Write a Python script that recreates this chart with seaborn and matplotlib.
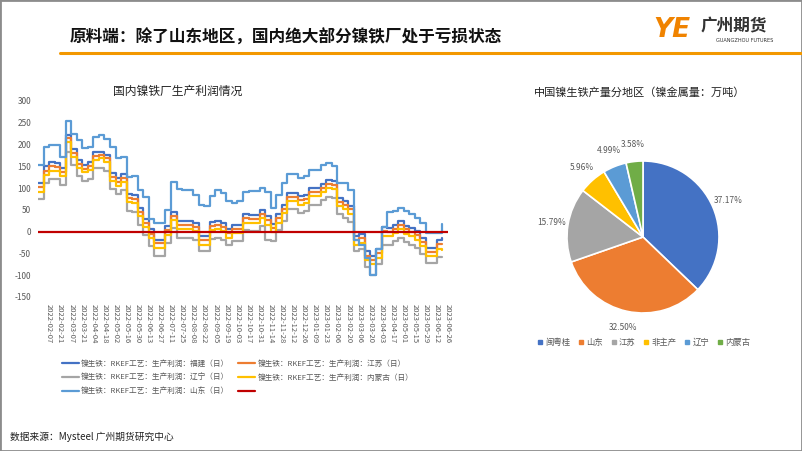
import pandas as pd
import seaborn as sns
import matplotlib.pyplot as plt
from matplotlib.lines import Line2D
from matplotlib.patches import Rectangle

# weekly readings of the profit chart, first week 2022-01-24
weeks = pd.date_range('2022-01-24', periods=74, freq='7D')

fujian = [112, 150, 159, 158, 146, 223, 190, 165, 154, 160, 182, 184, 177, 135, 123,
          133, 87, 85, 55, 30, 5, -18, -18, 12, 45, 24, 24, 24, 20, -11, -11, 22, 24,
          20, 5, 16, 16, 40, 39, 39, 50, 35, 18, 40, 62, 89, 89, 81, 85, 100, 100, 110,
          119, 116, 77, 70, 60, -10, -5, -45, -55, -40, 10, 8, 15, 24, 14, 8, 1, -15,
          -37, -37, -20, -15]
jiangsu = [102, 140, 150, 149, 137, 215, 181, 156, 145, 151, 174, 176, 169, 126, 114,
           124, 78, 76, 46, 21, -5, -27, -27, 3, 36, 15, 15, 15, 11, -20, -20, 13, 15,
           11, -4, 7, 7, 31, 30, 30, 41, 26, 9, 31, 53, 80, 80, 72, 76, 91, 91, 101,
           110, 107, 68, 61, 51, -20, -15, -55, -65, -50, 1, -1, 6, 15, 5, -1, -8, -24,
           -46, -46, -29, -28]
liaoning = [75, 112, 121, 120, 108, 184, 152, 128, 117, 122, 146, 147, 140, 97, 86,
            95, 48, 46, 16, -8, -33, -55, -55, -25, 8, -14, -14, -14, -18, -45, -45, -16,
            -14, -18, -30, -22, -22, 3, 2, 2, 12, -18, -22, 3, 25, 52, 52, 44, 48, 62, 62,
            72, 80, 78, 40, 32, 22, -45, -40, -80, -100, -75, -30, -30, -22, -14, -24, -30,
            -37, -52, -72, -72, -58, -58]
neimenggu = [92, 130, 140, 139, 127, 207, 172, 147, 136, 142, 165, 168, 160, 117, 105,
             115, 68, 66, 36, 11, -15, -37, -37, -7, 26, 5, 5, 5, 1, -30, -30, 3, 5, 1,
             -14, -3, -3, 21, 20, 20, 31, 16, -1, 21, 43, 70, 70, 62, 66, 81, 81, 91, 100,
             97, 58, 51, 41, -30, -25, -65, -75, -60, -9, -11, -4, 5, -5, -11, -18, -34,
             -56, -56, -39, -42]
shandong = [154, 195, 200, 198, 172, 253, 225, 211, 193, 195, 218, 222, 213, 195, 170,
            172, 125, 128, 95, 80, 30, 20, 20, 50, 115, 97, 95, 95, 85, 62, 60, 82, 95,
            88, 70, 66, 70, 90, 94, 93, 100, 90, 55, 85, 112, 133, 133, 123, 128, 142,
            142, 152, 158, 150, 112, 112, 95, -20, -30, -60, -100, -40, 10, 45, 48, 55, 48,
            40, 32, 20, -2, -2, -2, 18]

line_names = ['镍生铁：RKEF工艺：生产利润：福建（日）',
              '镍生铁：RKEF工艺：生产利润：江苏（日）',
              '镍生铁：RKEF工艺：生产利润：辽宁（日）',
              '镍生铁：RKEF工艺：生产利润：内蒙古（日）',
              '镍生铁：RKEF工艺：生产利润：山东（日）']
line_colors = ['#4472C4', '#ED7D31', '#A5A5A5', '#FFC000', '#5B9BD5']

tick_dates = pd.date_range('2022-02-07', '2023-06-26', freq='14D')
y_ticks = [-150, -100, -50, 0, 50, 100, 150, 200, 250, 300]

pie_regions = ['闽粤桂', '山东', '江苏', '非主产', '辽宁', '内蒙古']
pie_shares = [37.17, 32.50, 15.79, 5.96, 4.99, 3.58]
pie_colors = ['#4472C4', '#ED7D31', '#A5A5A5', '#FFC000', '#5B9BD5', '#70AD47']

sns.set_theme(style='white')
plt.rcParams['font.family'] = ['Noto Sans CJK SC', 'DejaVu Sans']

W, H = 802, 451
fig = plt.figure(figsize=(W / 100, H / 100), dpi=100)


def fx(px):
    return px / W


def fy(py):
    return 1 - py / H


# header
fig.text(fx(70), fy(38), '原料端：除了山东地区，国内绝大部分镍铁厂处于亏损状态',
         fontsize=12, fontweight='bold', color='#111111', va='center', ha='left')
fig.add_artist(Line2D([fx(60), fx(802)], [fy(53), fy(53)], color='#F39800', lw=2.2))
fig.text(fx(672), fy(30), 'YE', fontsize=19, fontweight='bold', style='italic',
         color='#F08300', ha='center', va='center', family=['DejaVu Sans'])
fig.text(fx(734), fy(26), '广州期货', fontsize=12, fontweight='bold', color='#333333',
         ha='center', va='center')
fig.text(fx(745), fy(41), 'GUANGZHOU FUTURES', fontsize=3.6, color='#333333',
         ha='center', va='center', family=['DejaVu Sans'])

# profit lines
df = pd.DataFrame({'date': list(weeks) * 5,
                   'value': fujian + jiangsu + liaoning + neimenggu + shandong,
                   'series': sum([[n] * len(weeks) for n in line_names], [])})

ax = fig.add_axes([fx(38), fy(297), fx(448 - 38), (297 - 101) / H])
sns.lineplot(data=df, x='date', y='value', hue='series', hue_order=line_names,
             palette=dict(zip(line_names, line_colors)), linewidth=1.6,
             drawstyle='steps-post', legend=False, ax=ax)
ax.axhline(0, color='#C00000', lw=1.6, zorder=5)
ax.set_xlim(weeks[0], weeks[-1])
ax.set_ylim(-150, 300)
ax.set_yticks(y_ticks)
ax.set_yticklabels([str(v) for v in y_ticks], fontsize=6, color='#595959')
ax.set_xticks(tick_dates)
ax.set_xticklabels([d.strftime('%Y-%m-%d') for d in tick_dates], rotation=270,
                   fontsize=5.5, color='#595959', ha='center', va='top')
ax.tick_params(length=0, pad=5)
ax.set_xlabel('')
ax.set_ylabel('')
for s in ax.spines.values():
    s.set_visible(False)
fig.text(fx(178), fy(91), '国内镍铁厂生产利润情况', fontsize=8.5, color='#222222',
         ha='center', va='center')

handles = [Line2D([], [], color=c, lw=1.6) for c in line_colors]
red = Line2D([], [], color='#C00000', lw=1.6)
# column-major order so the rows read like the original
leg_h = [handles[0], handles[2], handles[4], handles[1], handles[3], red]
leg_l = [line_names[0], line_names[2], line_names[4], line_names[1], line_names[3], '']
fig.legend(leg_h, leg_l, loc='upper left', bbox_to_anchor=(fx(55), fy(353)), ncol=2,
           frameon=False, fontsize=5.5, handlelength=2.2, handletextpad=0.3,
           labelspacing=0.75, columnspacing=1.2, labelcolor='#595959')

# pie
cx, cy, r = 643, 237, 76
axp = fig.add_axes([fx(cx - r), fy(cy + r), 2 * r / W, 2 * r / H])
wedges, texts, autotexts = axp.pie(pie_shares, colors=pie_colors, startangle=90,
                                   counterclock=False, autopct='%.2f%%',
                                   pctdistance=1.22,
                                   wedgeprops=dict(edgecolor='white', linewidth=1.2),
                                   textprops=dict(fontsize=6, color='#595959'))
axp.set_xlim(-1, 1)
axp.set_ylim(-1, 1)
axp.set_aspect('auto')
fig.text(fx(640), fy(93), '中国镍生铁产量分地区（镍金属量：万吨）', fontsize=8,
         color='#222222', ha='center', va='center')
pie_handles = [Line2D([], [], marker='s', color=c, lw=0, markersize=2.6) for c in pie_colors]
fig.legend(pie_handles, pie_regions, loc='center', bbox_to_anchor=(fx(644), fy(342)),
           ncol=6, frameon=False, fontsize=6, handlelength=0.6, handletextpad=0.3,
           columnspacing=1.0, labelcolor='#595959')

# footer and frame
fig.text(fx(10), fy(437), '数据来源：Mysteel 广州期货研究中心', fontsize=7,
         color='#222222', ha='left', va='center')
fig.add_artist(Rectangle((0, 0), 1, 1, transform=fig.transFigure, fill=False,
                         edgecolor='#8c8c8c', lw=2))

fig.savefig('out.png', dpi=100)
